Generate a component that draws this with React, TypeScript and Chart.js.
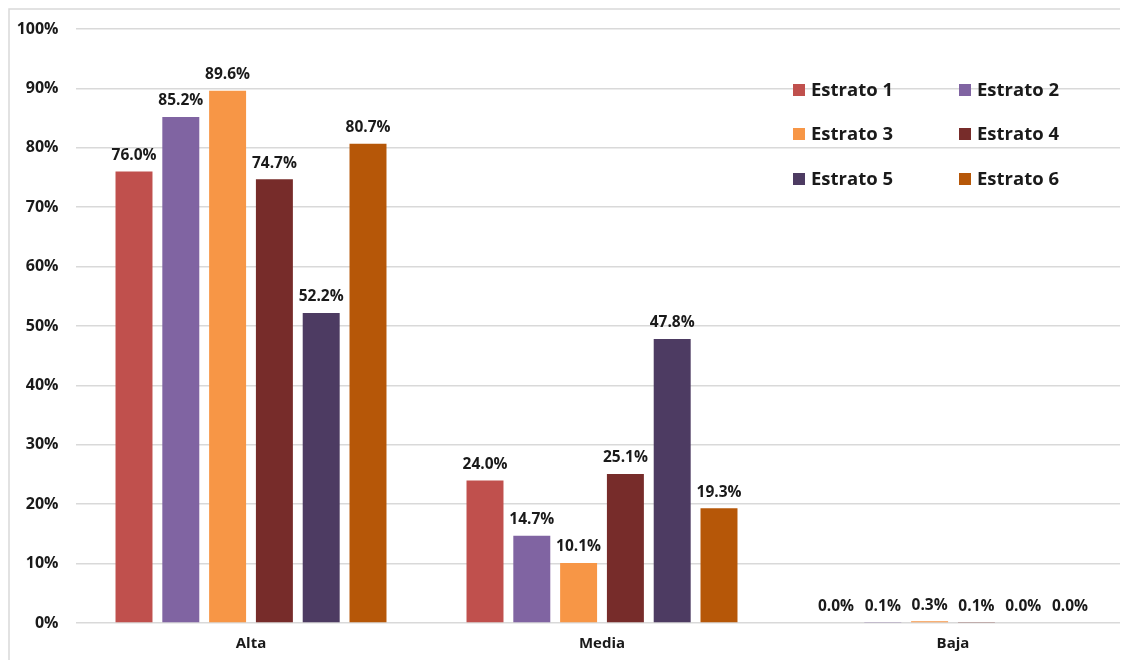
import React, { useEffect, useRef } from "react";
import { Chart, registerables } from "chart.js";

Chart.register(...registerables);

const categories = ["Alta", "Media", "Baja"];
const seriesNames = ["Estrato 1", "Estrato 2", "Estrato 3", "Estrato 4", "Estrato 5", "Estrato 6"];
const estrato1 = [76.0, 24.0, 0.0];
const estrato2 = [85.2, 14.7, 0.1];
const estrato3 = [89.6, 10.1, 0.3];
const estrato4 = [74.7, 25.1, 0.1];
const estrato5 = [52.2, 47.8, 0.0];
const estrato6 = [80.7, 19.3, 0.0];
const seriesColors = ["#C0504D", "#8064A2", "#F79646", "#772C2A", "#4D3B62", "#B65708"];
const yTicks = [0, 10, 20, 30, 40, 50, 60, 70, 80, 90, 100];

const FONT = "'Open Sans', 'DejaVu Sans', sans-serif";
const TEXT = "#1a1a1a";

const borderPlugin = {
  id: "outerBorder",
  beforeDraw(chart: any) {
    const ctx = chart.ctx;
    ctx.save();
    ctx.strokeStyle = "#D9D9D9";
    ctx.lineWidth = 1.5;
    ctx.strokeRect(1, 1, chart.width + 20, chart.height + 20);
    ctx.restore();
  },
};

const labelPlugin = {
  id: "valueLabels",
  afterDatasetsDraw(chart: any) {
    const ctx = chart.ctx;
    ctx.save();
    ctx.font = `bold 15.5px ${FONT}`;
    ctx.fillStyle = TEXT;
    ctx.textAlign = "center";
    ctx.textBaseline = "middle";
    chart.data.datasets.forEach((ds: any, i: number) => {
      const meta = chart.getDatasetMeta(i);
      meta.data.forEach((bar: any, j: number) => {
        const v = ds.data[j];
        ctx.fillText(v.toFixed(1) + "%", bar.x, bar.y - 16);
      });
    });
    ctx.restore();
  },
};

const legendPlugin = {
  id: "gridLegend",
  afterDraw(chart: any) {
    const ctx = chart.ctx;
    ctx.save();
    ctx.font = `bold 18.5px ${FONT}`;
    ctx.textBaseline = "middle";
    ctx.textAlign = "left";
    const colX = [785, 951];
    const rowY = [82, 126, 171];
    chart.data.datasets.forEach((ds: any, i: number) => {
      const col = i % 2;
      const row = Math.floor(i / 2);
      const x = colX[col];
      const y = rowY[row];
      ctx.fillStyle = ds.backgroundColor;
      ctx.fillRect(x, y - 6, 12, 12);
      ctx.fillStyle = TEXT;
      ctx.fillText(ds.label, x + 18, y + 1);
    });
    ctx.restore();
  },
};

export default function App() {
  const ref = useRef<HTMLCanvasElement | null>(null);
  useEffect(() => {
    if (!ref.current) return;
    const all = [estrato1, estrato2, estrato3, estrato4, estrato5, estrato6];
    const chart = new Chart(ref.current, {
      type: "bar",
      data: {
        labels: categories,
        datasets: all.map((d, i) => ({
          label: seriesNames[i],
          data: d,
          backgroundColor: seriesColors[i],
          borderWidth: 0,
          categoryPercentage: 0.8,
          barPercentage: 0.79,
        })),
      },
      options: {
        animation: false,
        responsive: true,
        maintainAspectRatio: false,
        layout: { padding: { top: 21, right: 19.5, bottom: 3, left: 0 } },
        plugins: {
          legend: { display: false },
          tooltip: { enabled: false },
        },
        scales: {
          x: {
            grid: { display: false, drawTicks: false },
            border: { display: false },
            ticks: {
              padding: 12,
              color: TEXT,
              font: { family: FONT, size: 15, weight: "bold" },
            },
          },
          y: {
            min: 0,
            max: 100,
            afterFit: (s: any) => {
              s.width = 67.5;
            },
            afterBuildTicks: (s: any) => {
              s.ticks = yTicks.map((v) => ({ value: v }));
            },
            grid: {
              color: "#D9D9D9",
              lineWidth: 1.5,
              drawTicks: true,
              tickLength: 16,
              tickColor: "rgba(0,0,0,0)",
            },
            border: { display: false },
            ticks: {
              padding: 1,
              color: TEXT,
              font: { family: FONT, size: 16, weight: "bold" },
              callback: (v: any) => v + "%",
            },
          },
        },
      },
      plugins: [borderPlugin, labelPlugin, legendPlugin],
    });
    return () => chart.destroy();
  }, []);
  return (
    <div style={{ width: 1120, height: 652, overflow: "hidden" }}>
      <div style={{ width: 1140, height: 660, position: "relative" }}>
        <canvas ref={ref} />
      </div>
    </div>
  );
}
